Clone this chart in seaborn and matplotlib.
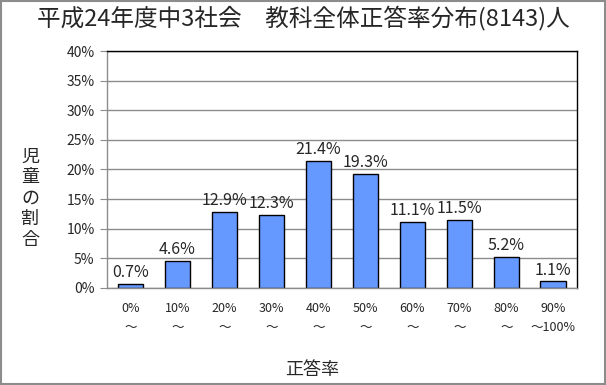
import numpy as np
import pandas as pd
import matplotlib
matplotlib.use('Agg')
import matplotlib.pyplot as plt
import seaborn as sns

# data
categories = ['0%\n～', '10%\n～', '20%\n～', '30%\n～', '40%\n～',
              '50%\n～', '60%\n～', '70%\n～', '80%\n～', '90%\n～100%']
ratios = [0.7, 4.6, 12.9, 12.3, 21.4, 19.3, 11.1, 11.5, 5.2, 1.1]
y_ticks = [0, 5, 10, 15, 20, 25, 30, 35, 40]

df = pd.DataFrame({'cat': categories, 'ratio': ratios})

sns.set_style('white')
plt.rcParams['font.family'] = ['Noto Sans CJK JP', 'DejaVu Sans']

fig = plt.figure(figsize=(6.06, 3.85), dpi=100)
ax = fig.add_axes([0.1766, 0.252, 0.7754, 0.6155])

sns.barplot(data=df, x='cat', y='ratio', color='#6699FF', saturation=1,
            edgecolor='black', linewidth=1, width=0.55, ax=ax)

# value labels above each bar
for i, v in enumerate(ratios):
    ax.text(i, v + 0.5, f'{v:.1f}%', ha='center', va='bottom', fontsize=11.5)

ax.set_xlim(-0.5, len(categories) - 0.5)
ax.set_ylim(0, 40)
ax.set_yticks(y_ticks)
ax.set_yticklabels([f'{t}%' for t in y_ticks], fontsize=10)
ax.yaxis.grid(True, color='#8c8c8c', linewidth=1)
ax.set_axisbelow(True)

ax.set_xticks(range(len(categories)))
ax.set_xticklabels(categories, fontsize=9, linespacing=1.6)
ax.set_xticks(np.arange(-0.5, len(categories)), minor=True)
ax.tick_params(axis='x', which='major', length=0, pad=10)
ax.tick_params(axis='x', which='minor', length=5, color='#8c8c8c', direction='out')
ax.tick_params(axis='y', length=5, color='#8c8c8c', direction='out', left=True, pad=4)

for s in ['left', 'bottom']:
    ax.spines[s].set_color('#8c8c8c')
for s in ['top', 'right']:
    ax.spines[s].set_color('black')
for s in ax.spines.values():
    s.set_linewidth(1)

ax.set_xlabel('')
ax.set_ylabel('')
fig.text(0.515, 0.04, '正答率', ha='center', va='center', fontsize=13)
fig.text(0.05, 0.485, '児\n童\nの\n割\n合', ha='center', va='center',
         fontsize=13, linespacing=1.2)

fig.suptitle('平成24年度中3社会　教科全体正答率分布(8143)人', fontsize=17, y=0.985)

# gray frame around the whole image
fig.patches.append(plt.Rectangle((0.002, 0.003), 0.996, 0.994, transform=fig.transFigure,
                                 fill=False, edgecolor='#8c8c8c', linewidth=1.5))

fig.savefig('out.png', dpi=100)
